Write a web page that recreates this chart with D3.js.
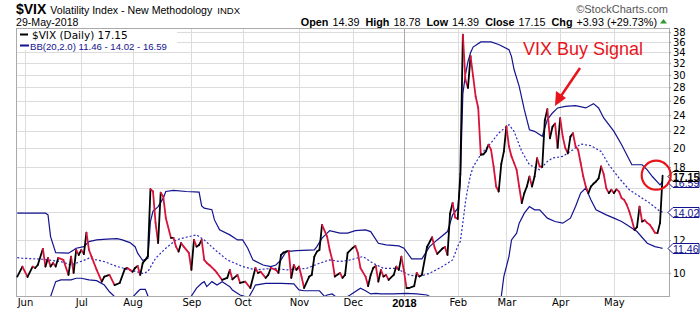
<!DOCTYPE html>
<html>
<head>
<meta charset="utf-8">
<script src="https://cdnjs.cloudflare.com/ajax/libs/d3/7.8.5/d3.min.js"></script>
<style>
  body { margin: 0; background: #fff; }
  svg { display: block; }
</style>
</head>
<body>
<div id="chart"></div>
<script>
// x = trading session number, 0 = 1-Jun-2017 ... 249 = 29-May-2018
var monthTicks  = [0, 22, 42, 65, 85, 107, 128, 148, 169, 188, 209, 230];
var monthLabels = ['Jun', 'Jul', 'Aug', 'Sep', 'Oct', 'Nov', 'Dec', '2018', 'Feb', 'Mar', 'Apr', 'May'];
var priceTicks  = [10, 12, 14, 16, 18, 20, 22, 24, 26, 28, 30, 32, 34, 36, 38];

// $VIX daily close, [session, close]
var vix = [
  [-3,9.80],[-1,10.36],[1,9.78],[3,10.36],[4,10.28],[5,10.45],[7,11.43],[8,10.36],[9,10.87],[10,10.36],
  [11,10.57],[12,10.36],[13,10.87],[15,10.75],[17,9.89],[18,10.95],[19,10.0],[20,11.36],[21,11.05],[22,11.36],
  [23,11.10],[24,12.51],[25,11.36],[26,10.95],[28,10.17],[30,9.53],[31,9.80],[33,9.89],[35,9.35],[37,9.46],
  [39,10.23],[40,10.28],[42,10.07],[43,10.28],[44,10.40],[45,9.89],[46,10.57],[47,10.75],[48,10.99],[49,15.92],
  [50,15.71],[51,13.20],[52,11.81],[53,15.60],[54,15.28],[55,13.57],[57,12.15],[58,12.15],[59,11.57],[60,11.26],
  [61,11.81],[62,11.57],[64,11.18],[65,10.17],[66,12.01],[67,11.57],[68,11.68],[69,12.01],[70,10.75],[71,10.57],
  [72,10.45],[74,10.17],[75,10.0],[77,9.62],[79,9.73],[80,10.17],[81,9.65],[83,9.89],[84,9.46],[86,9.53],
  [88,9.20],[90,10.28],[91,10.0],[92,10.07],[94,9.73],[95,9.89],[96,10.28],[98,10.17],[99,10.0],[100,11.05],
  [101,11.20],[102,11.26],[103,11.30],[104,9.73],[105,10.45],[106,10.17],[107,10.36],[108,9.80],[109,9.20],[111,9.80],
  [112,9.89],[113,10.95],[114,11.26],[115,11.36],[116,13.06],[118,12.23],[119,11.36],[120,10.75],[121,9.80],[123,10.0],
  [124,9.73],[125,9.89],[126,11.18],[128,11.49],[129,11.62],[130,11.18],[131,10.28],[133,9.80],[134,9.30],[135,9.89],
  [136,10.28],[137,10.40],[138,9.53],[139,10.17],[140,9.80],[141,9.89],[142,9.62],[144,9.89],[145,10.36],[146,10.17],
  [147,10.95],[148,10.10],[149,9.20],[150,9.20],[152,9.30],[153,10.0],[154,9.80],[155,9.89],[157,11.55],[159,12.19],
  [160,11.49],[161,11.11],[163,11.45],[164,11.55],[165,11.05],[166,13.90],[167,14.75],[168,13.60],[169,13.50],[170,17.30],
  [171,37.50],[172,29.20],[173,27.90],[174,33.30],[175,29.80],[176,26.60],[177,25.00],[178,19.26],[179,19.30],[180,19.62],
  [181,20.36],[182,19.81],[183,18.05],[184,16.15],[185,15.71],[186,18.30],[187,19.60],[188,22.54],[189,20.17],[190,19.08],
  [191,18.40],[192,17.72],[193,16.15],[194,14.73],[195,15.57],[196,16.15],[197,17.07],[198,16.15],[199,17.07],[200,18.91],
  [201,18.05],[202,18.00],[203,23.30],[204,24.80],[205,21.10],[206,22.50],[207,22.90],[208,20.00],[209,23.60],[210,21.30],
  [211,20.00],[212,19.40],[213,21.30],[214,21.70],[215,20.20],[216,19.80],[217,18.40],[218,17.10],[219,16.15],[220,15.57],
  [221,16.15],[222,16.40],[223,16.60],[224,16.90],[225,18.05],[226,17.30],[227,16.00],[228,15.57],[229,15.86],[230,15.57],
  [231,15.90],[232,15.70],[233,15.14],[234,15.00],[235,14.60],[236,14.06],[237,13.42],[238,12.70],[239,12.90],[240,14.45],
  [241,13.30],[242,13.40],[243,13.20],[244,13.06],[245,12.80],[246,12.50],[247,12.47],[248,13.20],[249,17.15]
];

// Bollinger Bands (20,2.0)
var bbUpper = [
  [-3,13.93],[8,13.93],[9,13.80],[10,12.23],[12,11.19],[17,11.16],[19,11.36],[20,11.47],[23,11.57],[25,11.90],
  [28,12.01],[32,12.06],[36,12.10],[38,12.01],[41,11.83],[43,11.57],[44,11.16],[46,10.71],[48,10.85],[49,13.30],
  [50,14.10],[51,14.25],[52,14.45],[54,15.14],[55,15.71],[58,15.80],[63,15.71],[68,15.66],[69,14.50],[70,14.32],
  [73,14.20],[74,13.42],[76,12.70],[80,12.35],[83,12.01],[85,12.01],[87,11.47],[89,10.75],[93,10.45],[96,10.36],
  [98,10.45],[100,10.75],[102,11.26],[106,11.32],[113,11.36],[114,11.57],[116,12.13],[119,12.65],[123,12.47],[126,12.47],
  [129,12.65],[133,12.70],[135,12.58],[138,11.79],[141,11.68],[146,11.62],[148,11.47],[151,10.81],[155,10.81],[158,11.57],
  [161,12.01],[165,12.58],[167,13.80],[169,14.30],[170,16.50],[171,27.00],[172,30.00],[173,32.30],[174,33.90],[175,35.00],
  [178,36.00],[182,36.00],[185,35.50],[189,34.50],[190,33.20],[191,30.90],[193,28.15],[195,24.73],[197,22.13],[199,21.93],
  [202,21.33],[204,23.40],[206,24.28],[208,24.97],[211,25.19],[215,25.29],[219,24.97],[222,25.57],[224,24.97],[226,23.62],
  [230,21.93],[233,20.36],[237,18.22],[241,18.22],[243,17.72],[245,17.07],[248,16.30],[249,16.59]
];
var bbMid = [
  [-3,10.89],[-1,10.85],[7,10.79],[14,10.65],[18,10.45],[20,10.55],[25,10.85],[31,10.65],[36,10.36],[41,10.17],
  [46,9.98],[48,10.07],[51,10.85],[55,11.47],[59,12.01],[63,12.19],[67,12.35],[70,12.01],[75,11.26],[79,10.75],
  [85,10.36],[90,10.17],[97,10.26],[102,10.17],[110,10.26],[115,10.55],[119,10.75],[123,10.65],[127,10.75],[132,10.95],
  [136,10.55],[140,10.26],[145,10.26],[150,9.89],[154,9.80],[158,9.98],[163,10.36],[167,10.75],[169,11.60],[170,11.90],
  [171,13.20],[172,14.80],[173,16.10],[174,17.20],[175,18.00],[178,19.30],[182,20.56],[185,21.73],[189,22.76],[191,21.93],
  [194,19.62],[197,18.22],[201,17.72],[204,18.56],[206,18.91],[210,19.08],[214,19.81],[217,20.44],[221,20.25],[225,19.62],
  [228,18.22],[232,16.92],[236,15.86],[240,15.28],[244,14.73],[248,14.06],[249,14.02]
];
var bbLower = [
  [-3,7.85],[9,7.85],[10,8.77],[12,9.53],[14,9.62],[18,9.62],[20,9.71],[22,9.71],[25,9.62],[28,9.58],
  [31,9.35],[33,9.01],[35,8.77],[38,8.50],[41,8.60],[44,9.01],[45,9.13],[47,9.13],[48,8.80],[49,7.20],
  [55,6.80],[62,7.80],[65,8.80],[67,9.19],[69,9.44],[70,9.53],[71,9.27],[73,9.53],[75,9.35],[77,9.53],
  [79,9.35],[80,9.27],[81,9.10],[84,8.85],[86,8.78],[87,8.65],[89,9.10],[90,9.35],[94,9.44],[100,9.44],
  [105,9.41],[107,9.10],[109,9.06],[115,9.06],[117,8.78],[118,8.85],[120,8.90],[122,8.70],[125,8.70],[127,8.85],
  [131,9.19],[133,9.06],[135,8.90],[137,8.93],[139,8.90],[144,8.90],[149,8.93],[153,8.90],[157,8.85],[158,8.78],
  [162,8.60],[167,8.20],[170,6.50],[171,3.00],[185,4.00],[186,8.77],[187,9.80],[189,10.95],[190,12.01],[192,12.47],
  [193,13.18],[195,13.93],[197,14.45],[199,14.19],[201,14.19],[204,13.55],[207,13.30],[210,13.18],[213,13.55],[215,14.45],
  [217,15.57],[219,16.01],[221,15.00],[223,14.19],[227,13.80],[230,13.55],[233,13.30],[235,13.06],[239,12.58],[243,11.79],
  [246,11.57],[248,11.50],[249,11.46]
];

var W = 700, H = 312;
var pl = 16, pr = 669, pt = 28, pb = 296;
var RED = '#d8133a', NAVY = '#13138f', GRID = '#dcdcdc';

var svg = d3.select('#chart').append('svg')
  .attr('width', W).attr('height', H)
  .style('font-family', '"DejaVu Sans", Verdana, sans-serif');

var x = d3.scaleLinear().domain([-3.5, 251.5]).range([pl, pr]);
var y = d3.scaleLog().domain([8.8, 38.9]).range([pb, pt]);

svg.append('defs').append('clipPath').attr('id', 'plot')
  .append('rect').attr('x', pl).attr('y', pt).attr('width', pr - pl).attr('height', pb - pt);

// grid
svg.append('g').selectAll('line').data(priceTicks).enter().append('line')
  .attr('x1', pl).attr('x2', pr)
  .attr('y1', function(d){ return Math.round(y(d)) + 0.5; })
  .attr('y2', function(d){ return Math.round(y(d)) + 0.5; })
  .attr('stroke', GRID);
svg.append('g').selectAll('line').data(monthTicks).enter().append('line')
  .attr('x1', function(d){ return Math.round(x(d)) + 0.5; })
  .attr('x2', function(d){ return Math.round(x(d)) + 0.5; })
  .attr('y1', pt).attr('y2', pb)
  .attr('stroke', function(d, i){ return monthLabels[i] == '2018' ? '#aaa' : GRID; });

// frame
svg.append('rect').attr('x', pl + 0.5).attr('y', pt + 0.5)
  .attr('width', pr - pl).attr('height', pb - pt)
  .attr('fill', 'none').attr('stroke', '#aaa');

var last = function(a){ return a[a.length - 1][1]; };
var tagged = [last(bbLower), last(bbMid), last(bbUpper), last(vix)];

// axes (labels that sit under a price tag are left out, as on the original)
var yAxis = svg.append('g').attr('transform', 'translate(' + pr + ',0)')
  .call(d3.axisRight(y).tickValues(priceTicks).tickFormat(d3.format('d')).tickSize(2).tickPadding(2));
yAxis.select('.domain').remove();
yAxis.selectAll('line').attr('stroke', '#999');
yAxis.selectAll('text').attr('font-size', '10px').attr('fill', '#000')
  .style('font-family', '"DejaVu Sans", sans-serif')
  .filter(function(d){ return tagged.some(function(v){ return Math.abs(y(v) - y(d)) < 7; }); })
  .remove();

var xAxis = svg.append('g').attr('transform', 'translate(0,' + pb + ')')
  .call(d3.axisBottom(x).tickValues(monthTicks)
    .tickFormat(function(d, i){ return monthLabels[i]; }).tickSize(0).tickPadding(3));
xAxis.select('.domain').remove();
xAxis.selectAll('text').attr('font-size', '10px').attr('fill', '#000')
  .style('font-family', '"DejaVu Sans", sans-serif')
  .filter(function(d, i){ return monthLabels[i] == '2018'; })
  .attr('font-weight', 'bold').attr('font-size', '11px')
  .style('font-family', '"Liberation Sans", Arial, sans-serif');

// bands
var line = d3.line().x(function(d){ return x(d[0]); }).y(function(d){ return y(d[1]); });
var plot = svg.append('g').attr('clip-path', 'url(#plot)');
plot.append('path').datum(bbUpper).attr('d', line)
  .attr('fill', 'none').attr('stroke', NAVY).attr('stroke-width', 1.2);
plot.append('path').datum(bbLower).attr('d', line)
  .attr('fill', 'none').attr('stroke', NAVY).attr('stroke-width', 1.2);
plot.append('path').datum(bbMid).attr('d', line)
  .attr('fill', 'none').attr('stroke', '#2b2bc0').attr('stroke-width', 1.2)
  .attr('stroke-dasharray', '2,2');

// VIX: black when rising, red when falling
var segs = d3.pairs(vix);
plot.selectAll('line.vix').data(segs).enter().append('line')
  .attr('class', 'vix')
  .attr('x1', function(d){ return x(d[0][0]); })
  .attr('y1', function(d){ return y(d[0][1]); })
  .attr('x2', function(d){ return x(d[1][0]); })
  .attr('y2', function(d){ return y(d[1][1]); })
  .attr('stroke', function(d){ return d[1][1] >= d[0][1] ? '#000' : RED; })
  .attr('stroke-width', 1.8)
  .attr('stroke-linecap', 'round');

// legend
svg.append('rect').attr('x', pl + 1).attr('y', pt + 1).attr('width', 160).attr('height', 21).attr('fill', '#fff');
svg.append('line').attr('x1', 20).attr('x2', 28).attr('y1', 34.5).attr('y2', 34.5)
  .attr('stroke', '#000').attr('stroke-width', 2);
svg.append('text').attr('x', 32).attr('y', 38.5).attr('font-size', '10.5px')
  .text('$VIX (Daily) ' + last(vix).toFixed(2));
svg.append('line').attr('x1', 20).attr('x2', 29).attr('y1', 45.5).attr('y2', 45.5)
  .attr('stroke', NAVY).attr('stroke-width', 2);
svg.append('text').attr('x', 30).attr('y', 49.5).attr('font-size', '9.6px').attr('fill', NAVY)
  .style('font-family', '"Liberation Sans", Arial, sans-serif')
  .text('BB(20,2.0) ' + last(bbLower).toFixed(2) + ' - ' + last(bbMid).toFixed(2) + ' - ' + last(bbUpper).toFixed(2));

// header
var hdr = svg.append('g').style('font-family', '"Liberation Sans", Arial, sans-serif');
var t1 = hdr.append('text').attr('x', 16).attr('y', 14);
t1.append('tspan').attr('font-weight', 'bold').attr('font-size', '14px').text('$VIX');
t1.append('tspan').attr('dx', 4).attr('font-size', '10.6px').text('Volatility Index - New Methodology');
t1.append('tspan').attr('dx', 5).attr('font-size', '9.5px').text('INDX');
hdr.append('text').attr('x', 16).attr('y', 26).attr('font-size', '10.6px').text('29-May-2018');
hdr.append('text').attr('x', 668).attr('y', 13).attr('text-anchor', 'end')
  .attr('font-size', '11px').attr('fill', '#555').text('\u00a9StockCharts.com');

var quote = [['Open', '14.39'], ['High', '18.78'], ['Low', '14.39'], ['Close', '17.15'], ['Chg', '+3.93 (+29.73%)']];
var t2 = hdr.append('text').attr('x', 657).attr('y', 26).attr('text-anchor', 'end').attr('font-size', '10.8px');
quote.forEach(function(q, i){
  t2.append('tspan').attr('font-weight', 'bold').attr('dx', i ? 6 : 0).text(q[0]);
  t2.append('tspan').attr('dx', 4).text(q[1]);
});
hdr.append('path').attr('d', 'M660,23.5 L667,23.5 L663.5,19 Z').attr('fill', '#2e9a2e');

// price tags on the right axis
function tag(v, color, bold){
  var yy = Math.round(y(v)) + 0.5;
  var g = svg.append('g');
  g.append('path')
    .attr('d', 'M' + (pr - 1) + ',' + yy + ' L' + (pr + 4) + ',' + (yy - 5) + ' L699,' + (yy - 5) +
               ' L699,' + (yy + 5) + ' L' + (pr + 4) + ',' + (yy + 5) + ' Z')
    .attr('fill', '#fff').attr('stroke', color);
  g.append('text').attr('x', pr + 4).attr('y', yy + 4).attr('font-size', '10.5px')
    .style('font-family', '"Liberation Sans", Arial, sans-serif')
    .attr('font-weight', bold ? 'bold' : 'normal').attr('fill', color)
    .text(v.toFixed(2));
}
tag(last(bbLower), NAVY);
tag(last(bbMid), NAVY);
tag(last(bbUpper), NAVY);
tag(last(vix), '#000', true);

// annotation
var ann = svg.append('g').style('font-family', '"Liberation Sans", Arial, sans-serif');
ann.append('text').attr('x', 523).attr('y', 55).attr('font-size', '18px').attr('fill', '#e8141c')
  .text('VIX Buy Signal');
ann.append('line').attr('x1', 580).attr('y1', 68).attr('x2', 561).attr('y2', 96)
  .attr('stroke', '#e8141c').attr('stroke-width', 2.5);
ann.append('path').attr('d', 'M555,106 L556,91 L566,98 Z').attr('fill', '#e8141c');
ann.append('circle').attr('cx', x(246.5)).attr('cy', y(17.2)).attr('r', 14.5)
  .attr('fill', 'none').attr('stroke', '#e8141c').attr('stroke-width', 2.2);
</script>
</body>
</html>
